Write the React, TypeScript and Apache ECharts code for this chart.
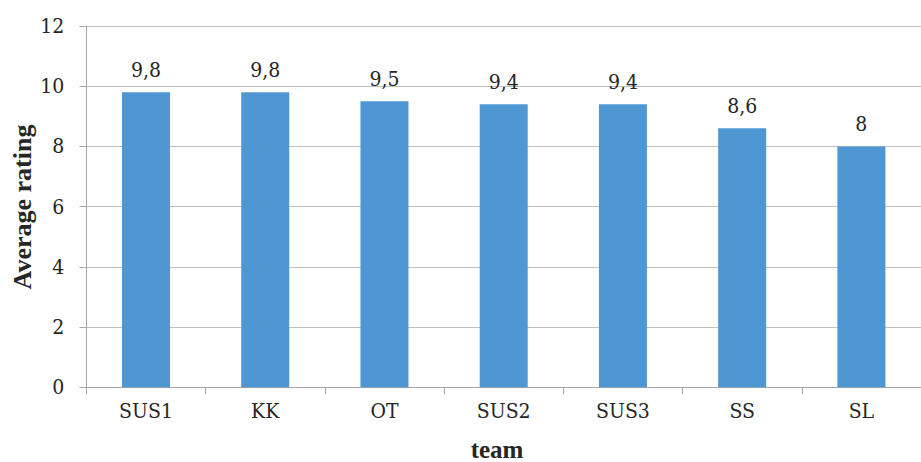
import React, { useEffect, useRef } from "react";
import * as echarts from "echarts";

const categories = ["SUS1", "KK", "OT", "SUS2", "SUS3", "SS", "SL"];
const ratings = [9.8, 9.8, 9.5, 9.4, 9.4, 8.6, 8];
const yTicks = { min: 0, max: 12, interval: 2 };
const yTitle = "Average rating";
const xTitle = "team";

const BOLD_FONT = "Liberation Serif";
const FONT = "DejaVu Serif Condensed, DejaVu Serif";
const TEXT = "#262626";

export default function App() {
  const ref = useRef<HTMLDivElement>(null);
  useEffect(() => {
    if (!ref.current) return;
    const chart = echarts.init(ref.current, undefined, { renderer: "svg" });
    chart.setOption({
      animation: false,
      backgroundColor: "#ffffff",
      grid: { left: 86.4, right: -14.5, top: 26, bottom: 74.7, containLabel: false },
      xAxis: {
        type: "category",
        data: categories,
        axisLine: { show: true, lineStyle: { color: "#a6a6a6", width: 1 } },
        axisTick: { show: true, alignWithLabel: false, length: 7, lineStyle: { color: "#a6a6a6" } },
        axisLabel: { color: TEXT, fontSize: 21, fontFamily: FONT, margin: 13 },
      },
      yAxis: {
        type: "value",
        min: yTicks.min,
        max: yTicks.max,
        interval: yTicks.interval,
        axisLine: { show: true, lineStyle: { color: "#a6a6a6", width: 1 } },
        axisTick: { show: true, length: 7, lineStyle: { color: "#a6a6a6" } },
        splitLine: { show: true, lineStyle: { color: "#bfbfbf", width: 1 } },
        axisLabel: { color: TEXT, fontSize: 21, fontFamily: FONT, margin: 22 },
      },
      series: [
        {
          type: "bar",
          data: ratings,
          barWidth: 48,
          itemStyle: { color: "#4f97d3" },
          label: {
            show: true,
            position: "top",
            distance: 12,
            color: TEXT,
            fontSize: 21,
            fontFamily: FONT,
            formatter: (p: any) => String(p.value).replace(".", ","),
          },
        },
      ],
      graphic: [
        {
          type: "text",
          x: 22,
          y: 207,
          rotation: Math.PI / 2,
          style: {
            text: yTitle,
            fontSize: 26,
            fontWeight: "bold",
            fontFamily: BOLD_FONT,
            fill: TEXT,
            align: "center",
            verticalAlign: "middle",
          },
        },
        {
          type: "text",
          x: 497,
          y: 449,
          style: {
            text: xTitle,
            fontSize: 25,
            fontWeight: "bold",
            fontFamily: BOLD_FONT,
            fill: TEXT,
            align: "center",
            verticalAlign: "middle",
          },
        },
      ],
    });
    return () => chart.dispose();
  }, []);
  return (
    <div
      ref={ref}
      style={{ position: "fixed", left: 0, top: 0, width: 921, height: 462 }}
    />
  );
}
